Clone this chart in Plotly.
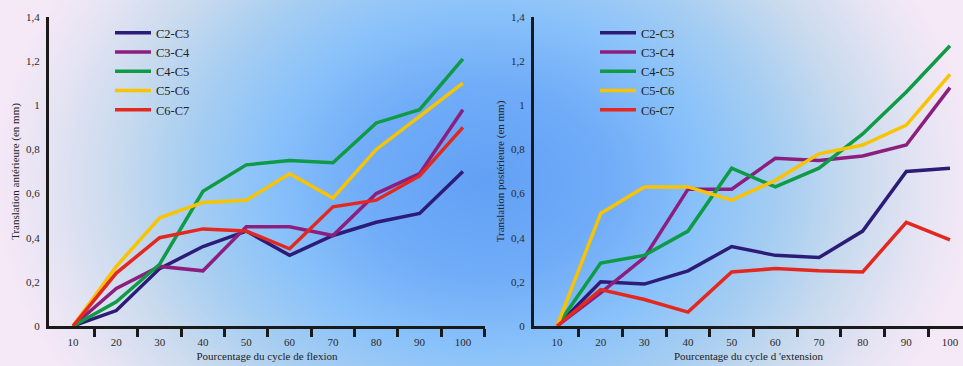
import base64
import struct
import zlib

import numpy as np
import plotly.graph_objects as go

# ---------------- data ----------------
pct = [10, 20, 30, 40, 50, 60, 70, 80, 90, 100]
series_names = ["C2-C3", "C3-C4", "C4-C5", "C5-C6", "C6-C7"]

c2c3_flex = [0, 0.07, 0.26, 0.36, 0.43, 0.32, 0.41, 0.47, 0.51, 0.70]
c3c4_flex = [0, 0.17, 0.27, 0.25, 0.45, 0.45, 0.41, 0.60, 0.69, 0.98]
c4c5_flex = [0, 0.11, 0.28, 0.61, 0.73, 0.75, 0.74, 0.92, 0.98, 1.21]
c5c6_flex = [0, 0.27, 0.49, 0.56, 0.57, 0.69, 0.58, 0.80, 0.95, 1.10]
c6c7_flex = [0, 0.24, 0.40, 0.44, 0.43, 0.35, 0.54, 0.57, 0.68, 0.90]

c2c3_ext = [0, 0.20, 0.19, 0.25, 0.36, 0.32, 0.31, 0.43, 0.70, 0.715]
c3c4_ext = [0, 0.15, 0.31, 0.62, 0.62, 0.76, 0.75, 0.77, 0.82, 1.08]
c4c5_ext = [0, 0.285, 0.32, 0.43, 0.715, 0.63, 0.715, 0.87, 1.06, 1.27]
c5c6_ext = [0, 0.51, 0.63, 0.63, 0.57, 0.66, 0.78, 0.82, 0.91, 1.14]
c6c7_ext = [0, 0.165, 0.12, 0.063, 0.245, 0.26, 0.25, 0.245, 0.47, 0.39]

y_tickvals = [0, 0.2, 0.4, 0.6, 0.8, 1.0, 1.2, 1.4]
y_ticktext = ["0", "0,2", "0,4", "0,6", "0,8", "1", "1,2", "1,4"]
x_ticktext = [str(v) for v in pct]

flex_series = [c2c3_flex, c3c4_flex, c4c5_flex, c5c6_flex, c6c7_flex]
ext_series = [c2c3_ext, c3c4_ext, c4c5_ext, c5c6_ext, c6c7_ext]

# ---------------- styles ----------------
colors = ["#2c1c78", "#8c1f7e", "#0f9a46", "#f8c400", "#e3281f"]
W, H = 963, 366
FONT = "Liberation Serif"
AXC = "#1a1a1a"


# ---------------- background gradient image ----------------
def make_png(arr):
    h, w, _ = arr.shape
    raw = b"".join(b"\x00" + arr[i].tobytes() for i in range(h))

    def chunk(t, d):
        c = struct.pack(">I", len(d)) + t + d
        return c + struct.pack(">I", zlib.crc32(t + d) & 0xFFFFFFFF)

    return (b"\x89PNG\r\n\x1a\n"
            + chunk(b"IHDR", struct.pack(">IIBBBBB", w, h, 8, 2, 0, 0, 0))
            + chunk(b"IDAT", zlib.compress(raw, 9))
            + chunk(b"IEND", b""))


Y, X = np.mgrid[0:H, 0:W].astype(float)
d = np.sqrt(((X - 485) / 490.0) ** 2 + ((Y - 180) / 380.0) ** 2)
stops = [0.0, 0.25, 0.45, 0.6, 0.75, 0.9, 1.0]
rs = [98, 112, 138, 165, 200, 230, 245]
gs = [160, 172, 194, 205, 218, 228, 232]
bs = [245, 248, 250, 242, 238, 243, 247]
img = np.stack([np.interp(d, stops, rs), np.interp(d, stops, gs),
                np.interp(d, stops, bs)], axis=-1).round().astype(np.uint8)
bg_uri = "data:image/png;base64," + base64.b64encode(make_png(img)).decode()

fig = go.Figure()

for name, ys, col in zip(series_names, flex_series, colors):
    fig.add_trace(go.Scatter(x=pct, y=ys, mode="lines", name=name,
                             line=dict(color=col, width=3.5),
                             xaxis="x", yaxis="y", legend="legend"))
for name, ys, col in zip(series_names, ext_series, colors):
    fig.add_trace(go.Scatter(x=pct, y=ys, mode="lines", name=name,
                             line=dict(color=col, width=3.5),
                             xaxis="x2", yaxis="y2", legend="legend2"))

ydom = [(H - 326) / H, (H - 17) / H]


def xaxis_cfg(domain, rng, title, minor_end, anchor):
    return dict(
        domain=domain, range=rng, anchor=anchor, automargin=False,
        showgrid=False, zeroline=False,
        showline=True, linecolor=AXC, linewidth=3,
        tickmode="array", tickvals=pct, ticktext=x_ticktext, ticks="",
        ticklabelstandoff=4,
        tickfont=dict(family=FONT, size=11, color="#2a2a2a"),
        minor=dict(tickmode="array",
                   tickvals=[v + 5 for v in range(10, minor_end, 10)],
                   ticks="outside", ticklen=8, tickwidth=3, tickcolor=AXC,
                   showgrid=False),
        title=dict(text=title, standoff=6,
                   font=dict(family=FONT, size=11, color="#222222")),
        fixedrange=True,
    )


def yaxis_cfg(anchor, title):
    return dict(
        domain=ydom, range=[0, 1.4], anchor=anchor, automargin=False,
        showgrid=False,
        zeroline=False, showline=True, linecolor=AXC, linewidth=3,
        tickmode="array", tickvals=y_tickvals, ticktext=y_ticktext, ticks="",
        ticklabelstandoff=4,
        tickfont=dict(family=FONT, size=11, color="#2a2a2a"),
        title=dict(text=title, standoff=5,
                   font=dict(family=FONT, size=11, color="#222222")),
        fixedrange=True,
    )


legend_common = dict(
    bgcolor="rgba(0,0,0,0)", borderwidth=0, xanchor="left", yanchor="top",
    font=dict(family=FONT, size=12.5, color="#222222"),
    traceorder="normal", itemwidth=36,
)

fig.update_layout(
    width=W, height=H,
    margin=dict(l=0, r=0, t=0, b=0, autoexpand=False),
    paper_bgcolor="rgba(0,0,0,0)", plot_bgcolor="rgba(0,0,0,0)",
    showlegend=True,
    xaxis=xaxis_cfg([49 / W, 485 / W], [4.46, 105.1],
                    "Pourcentage du cycle de flexion", 101, "y"),
    yaxis=yaxis_cfg("x", "Translation antérieure (en mm)"),
    xaxis2=xaxis_cfg([534 / W, 1.0], [4.73, 102.98],
                     "Pourcentage du cycle d 'extension", 91, "y2"),
    yaxis2=yaxis_cfg("x2", "Translation postérieure (en mm)"),
    legend=dict(legend_common, x=110 / W, y=1 - 18 / H),
    legend2=dict(legend_common, x=595 / W, y=1 - 18 / H),
    images=[dict(source=bg_uri, xref="paper", yref="paper", x=0, y=1,
                 sizex=1, sizey=1, sizing="stretch", layer="below")],
)

fig.write_html("out.html")
